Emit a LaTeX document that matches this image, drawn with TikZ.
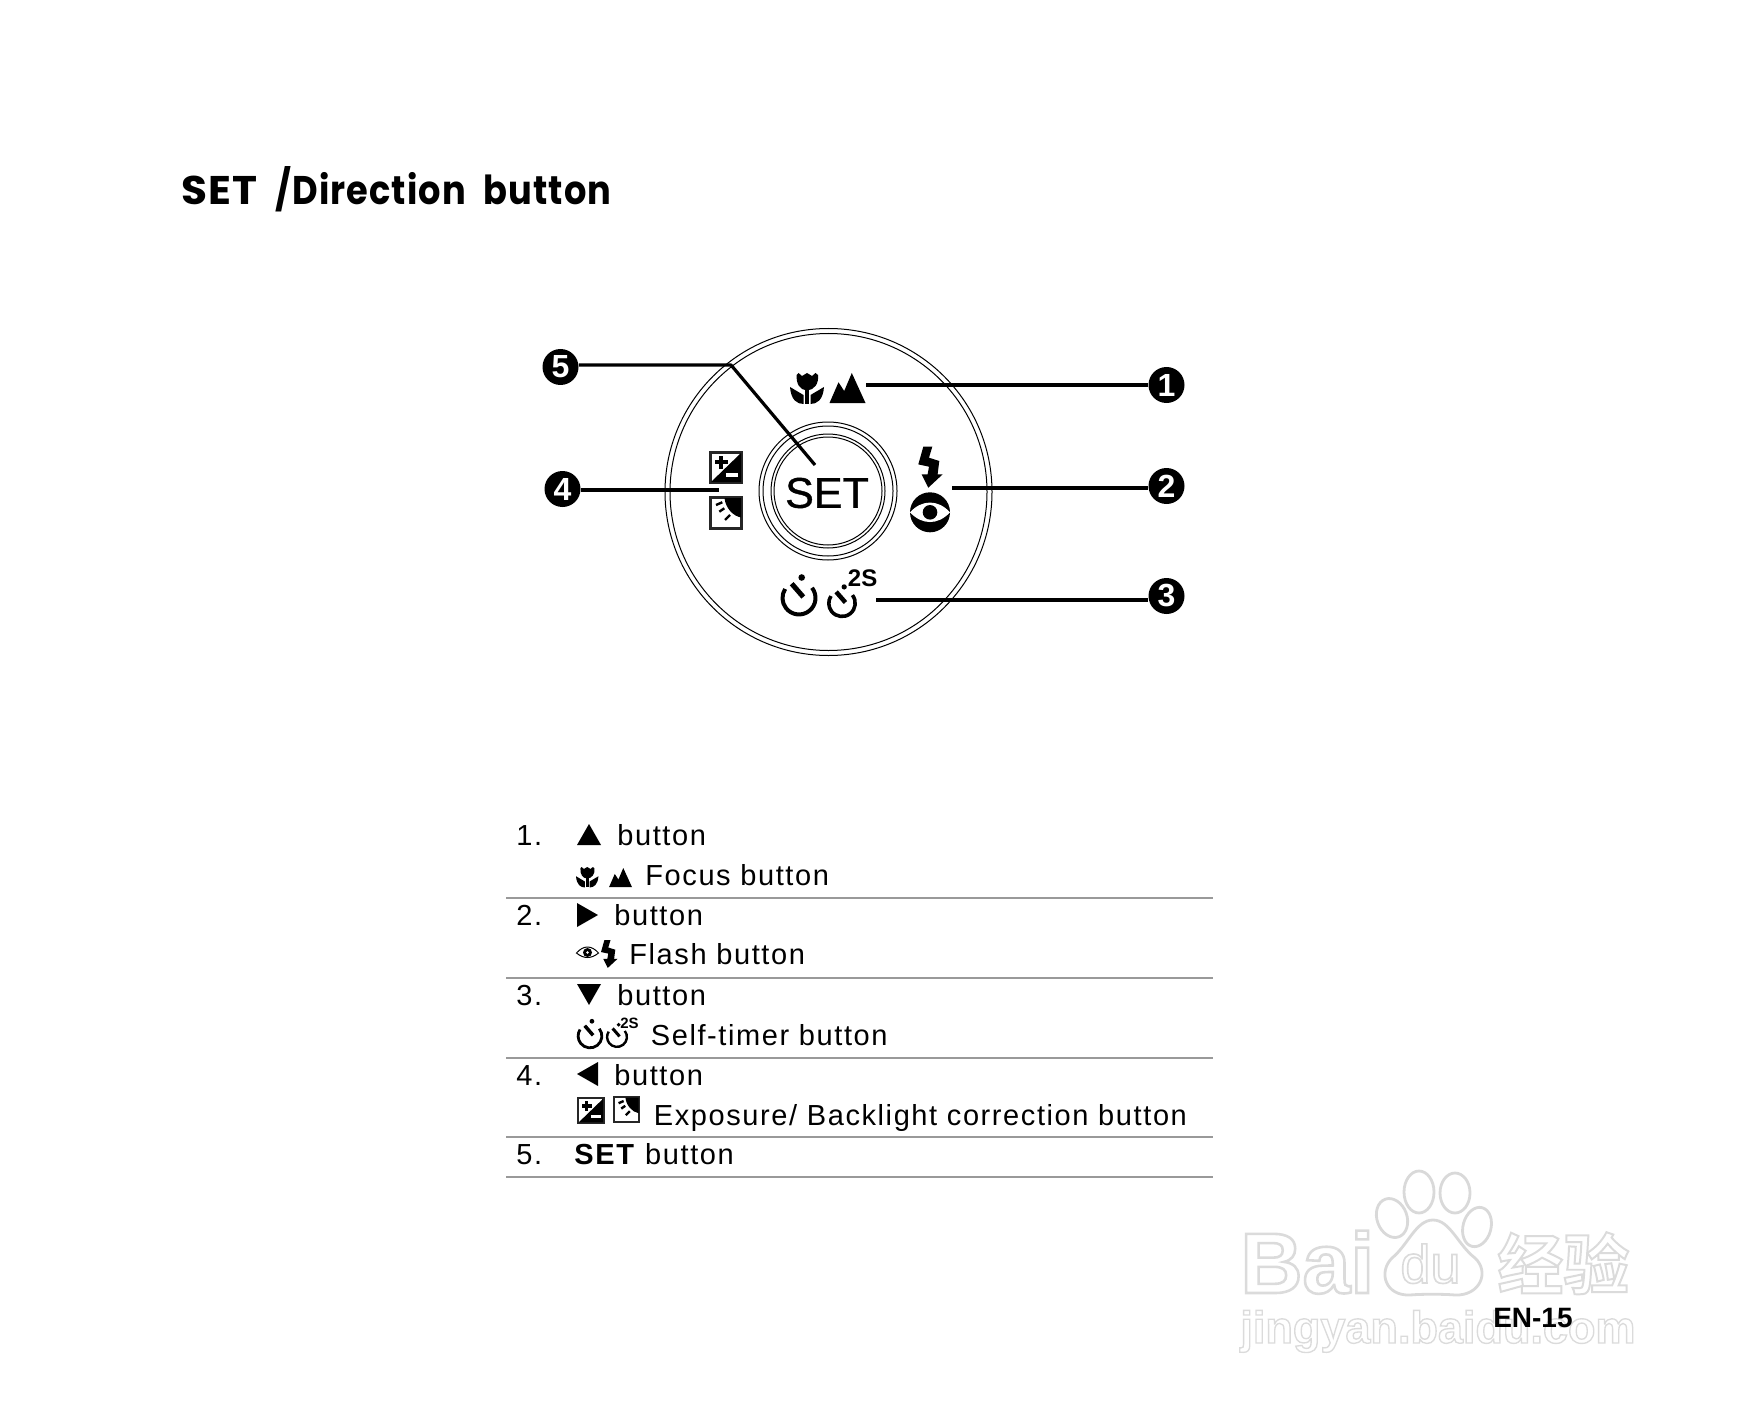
\documentclass[tikz,border=0pt]{standalone}
\usepackage{fontspec}
\setmainfont{Liberation Sans}
\newfontfamily\tblfont[LetterSpace=5.5]{Liberation Sans}
\newfontfamily\titlefont[LetterSpace=3,WordSpace=2.1]{Poppins}
\newfontfamily\setfont[FakeBold=0.9]{Liberation Sans}
\newfontfamily\wmfont[FakeBold=3]{Liberation Sans}
\newfontfamily\wmboldfont[UprightFont=* Bold,FakeBold=3]{Liberation Sans}
\newfontfamily\wmcjk[UprightFont=* Bold,FakeBold=3]{Noto Sans CJK SC}
\definecolor{rulegray}{HTML}{999999}
\newcommand{\wmstyle}{\color{white}\special{pdf:code 0.86 G}}
\tikzset{
  x=0.5pt,y=-0.5pt,
  ring/.style={draw=black,line width=0.5pt,fill=none},
  badge/.style={circle,fill=black,text=white,minimum size=18pt,inner sep=0pt,font=\bfseries\fontsize{16}{16}\selectfont},
  callout/.style={draw=black,line width=1.6pt},
  tbl/.style={anchor=base west,inner sep=0pt,font=\tblfont\fontsize{14.5}{16}\selectfont},
  tblrule/.style={draw=rulegray,line width=1pt},
  wmtext/.style={anchor=base west,inner sep=0pt},
  paw/.style={draw=black!15,line width=1.4pt,fill=white},
  pics/tulip/.style={code={
    \fill (6.7,2) -- (8.5,0) -- (12,3) -- (17,0) -- (22,3) -- (25.5,0) -- (28,2) .. controls (29,11) and (24,17) .. (17,17.5) .. controls (10,17) and (6,11) .. (6.7,2) -- cycle;
    \fill (15,17) rectangle (19,31);
    \fill (0,14) -- (13.5,22) -- (13.5,31) .. controls (7,31) and (1,27) .. (0,14) -- cycle;
    \fill (34,14) -- (20.5,22) -- (20.5,31) .. controls (27,31) and (33,27) .. (34,14) -- cycle;
  }},
  pics/mountain/.style={code={
    \fill (0,30) -- (9,9.3) -- (14.7,18) -- (22.3,0) -- (36,30) -- cycle;
  }},
  pics/exposure/.style={code={
    \fill[black!85] (0,0) rectangle (34,33);
    \fill[white] (3,3) rectangle (31,30);
    \fill (2,31) -- (32,2) -- (32,31) -- cycle;
    \fill (5.5,9) rectangle (18.5,13);
    \fill (10,4.5) rectangle (14,17.5);
    \fill[white] (16.5,22) rectangle (29,26);
  }},
  pics/backlight/.style={code={
    \fill[black!85] (0,0) rectangle (34,34);
    \fill[white] (3,3) rectangle (31,31);
    \fill (15.5,2) .. controls (16.5,12) and (24,20) .. (32,21.5) -- (32,2) -- cycle;
    \draw[line width=1.2pt] (7,9) -- (13.3,6.3) (10.3,15.7) -- (15.3,12.3) (16,24) -- (21,19);
  }},
  pics/bolt/.style={code={
    \fill (5,0) -- (14,0) -- (10.7,11) -- (21,14.3) -- (19.3,27.7) -- (24.3,27.7) -- (10,41) -- (3.3,27.7) -- (9.3,27.7) -- (10.7,20) -- (0,17.7) -- cycle;
  }},
  pics/bigeye/.style={code={
    \fill (0,0) circle[radius=20];
    \fill[white] (-20,0) .. controls (-8,-13) and (8,-13) .. (20,0) .. controls (8,13) and (-8,13) .. (-20,0) -- cycle;
    \fill (0,0) circle[radius=7.3];
  }},
  pics/smalleye/.style={code={
    \draw[line width=0.5pt] (-11,0) .. controls (-4,-8) and (4,-8) .. (11,0) .. controls (4,6) and (-4,6) .. (-11,0) -- cycle;
    \fill (0,-0.5) circle[radius=4.5];
    \fill[white] (0,-0.5) circle[radius=1.3];
  }},
  pics/timer/.style={code={
    \draw[line width=#1] (13,-10.2) arc[start angle=-38,end angle=213,radius=16.5];
    \fill (2.7,-20.5) circle[radius=3.3];
    \draw[line width=1.25*#1] (-7.3,-14.3) -- (4.3,-1);
  }},
}
\begin{document}
\begin{tikzpicture}
\useasboundingbox (0,0) rectangle (1744,1428);
% watermark
\draw[paw] (1392,1218) ellipse[x radius=15,y radius=20,rotate=20];
\draw[paw] (1419,1192) ellipse[x radius=15,y radius=21];
\draw[paw] (1455,1193) ellipse[x radius=15,y radius=20];
\draw[paw] (1477,1227) ellipse[x radius=14,y radius=20,rotate=-15];
\draw[paw] (1433,1220) .. controls (1450,1220) and (1458,1245) .. (1475,1258) .. controls (1490,1272) and (1480,1296) .. (1455,1295) .. controls (1445,1294) and (1420,1294) .. (1410,1295) .. controls (1385,1296) and (1378,1272) .. (1392,1258) .. controls (1408,1245) and (1416,1220) .. (1433,1220) -- cycle;
\node[wmtext] (wmBai) at (1240,1293) {\wmboldfont\fontsize{43}{43}\selectfont\wmstyle Bai};
\node[wmtext] (wmdu) at (1400,1283) {\wmfont\fontsize{27}{27}\selectfont\wmstyle du};
\node[wmtext] (wmjy) at (1497,1289) {\wmcjk\fontsize{33}{33}\selectfont\wmstyle 经验};
\node[wmtext] (wmurl) at (1240,1343) {\wmboldfont\fontsize{22.5}{23}\selectfont\wmstyle jingyan.baidu.com};
% title
\node[anchor=base west,inner sep=0pt,font=\titlefont\bfseries\fontsize{20}{24}\selectfont] (title) at (181,205) {\scalebox{0.88}[1]{\scalebox{1.2}[1]{SET} /Direction button}};
% dial
\draw[ring] (828.5,492) circle[radius=163.5];
\draw[ring] (828.5,492) circle[radius=158.5];
\draw[ring] (828,491) circle[radius=69];
\draw[ring] (828,491) circle[radius=65];
\draw[ring] (828,491) circle[radius=57];
\draw[ring] (828,491) circle[radius=54];
\node[inner sep=0pt,font=\setfont\fontsize{21.5}{24}\selectfont] (setlabel) at (827,493) {SET};
\pic at (790,373) {tulip};
\pic at (829.5,373) {mountain};
\pic at (709,451) {exposure};
\pic at (709,496) {backlight};
\pic at (918.3,446.7) {bolt};
\pic at (930,512.3) {bigeye};
\pic at (799,598) {timer=2pt};
\pic[scale=0.8] at (842,603.3) {timer=1.8pt};
\node[anchor=base west,inner sep=0pt,font=\bfseries\fontsize{12}{12}\selectfont] (twos) at (847.5,586) {2S};
% callouts
\node[badge] (b1) at (1166.5,385) {1};
\node[badge] (b2) at (1166.5,486) {2};
\node[badge] (b3) at (1166.5,596) {3};
\node[badge] (b4) at (562.5,489) {4};
\node[badge] (b5) at (560.5,367) {5};
\coordinate (p1) at (866,385);
\coordinate (p2) at (952,488);
\coordinate (p3) at (875.6,600);
\coordinate (p4) at (718.6,490);
\coordinate (p5a) at (731,365);
\coordinate (p5b) at (815,465);
\draw[callout] (b1.west |- p1) -- (p1);
\draw[callout] (b2.west |- p2) -- (p2);
\draw[callout,line width=1.9pt] (b3.west |- p3) -- (p3);
\draw[callout] (b4.east |- p4) -- (p4);
\draw[callout,line join=round] (b5.east |- p5a) -- (p5a) -- (p5b);
% table
\draw[tblrule] (506,898) -- (1213,898);
\draw[tblrule] (506,978) -- (1213,978);
\draw[tblrule] (506,1058) -- (1213,1058);
\draw[tblrule] (506,1137) -- (1213,1137);
\draw[tblrule] (506,1177) -- (1213,1177);
\node[tbl] (n1) at (516,845) {1.};
\fill (577,845) -- (589,824) -- (601,845) -- cycle;
\node[tbl] (t1) at (617,845) {button};
\pic[scale=0.66] at (576,867) {tulip};
\pic[scale=0.64] at (609,868) {mountain};
\node[tbl] (t1b) at (645,885) {Focus button};
\node[tbl] (n2) at (516,925) {2.};
\fill (577,903) -- (598,915) -- (577,927) -- cycle;
\node[tbl] (t2) at (614,925) {button};
\pic at (587.5,953) {smalleye};
\pic[scale=0.68] at (601,940) {bolt};
\node[tbl] (t2b) at (629,964) {Flash button};
\node[tbl] (n3) at (516,1005) {3.};
\fill (577,984) -- (601,984) -- (589,1005) -- cycle;
\node[tbl] (t3) at (617,1005) {button};
\pic[scale=0.72] at (590,1036) {timer=1.4pt};
\pic[scale=0.6] at (617,1037) {timer=1.2pt};
\node[anchor=base west,inner sep=0pt,font=\bfseries\fontsize{7.5}{8}\selectfont] (twosb) at (620,1028) {2S};
\node[tbl] (t3b) at (650.5,1045) {Self-timer button};
\node[tbl] (n4) at (516,1085) {4.};
\fill (598,1062) -- (577,1074) -- (598,1086) -- cycle;
\node[tbl] (t4) at (614,1085) {button};
\pic[scale=0.82] at (577,1097) {exposure};
\pic[scale=0.8] at (613,1096) {backlight};
\node[tbl] (t4b) at (653.5,1125) {Exposure/ Backlight correction button};
\node[tbl] (n5) at (516,1164) {5.};
\node[tbl] (t5) at (574,1164) {\textbf{SET} button};
% page number
\node[anchor=base east,inner sep=0pt,font=\bfseries\fontsize{14}{16}\selectfont] (page) at (1573,1327) {EN-15};
\end{tikzpicture}
\end{document}
